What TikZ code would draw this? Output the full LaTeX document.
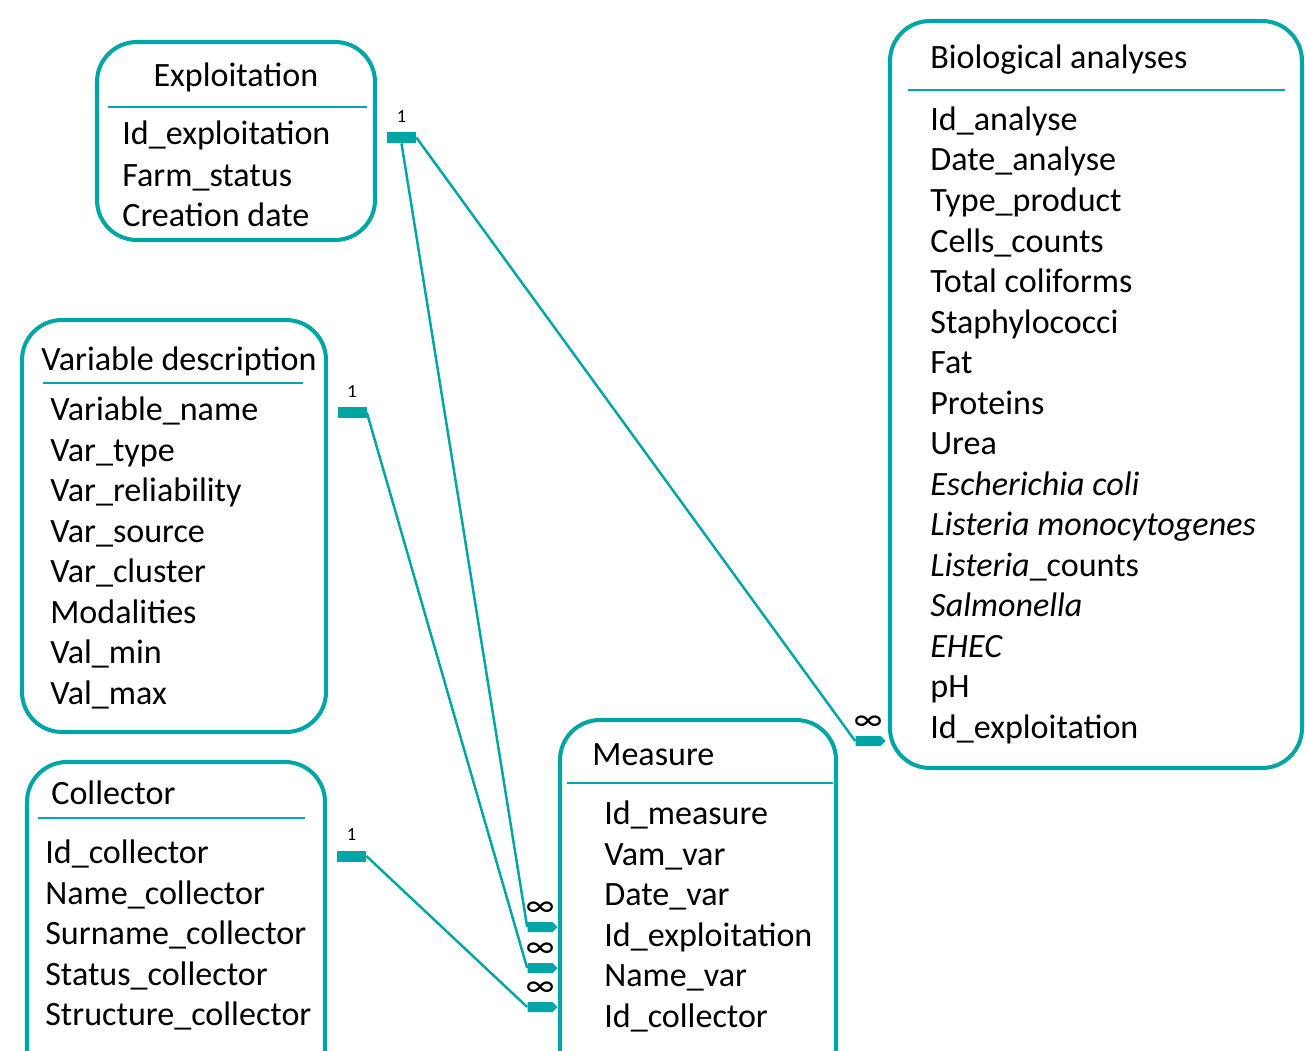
\documentclass[tikz,border=0pt]{standalone}
\usepackage{fontspec}
\setmainfont{Carlito}
\usetikzlibrary{shapes.symbols,positioning}
\definecolor{erteal}{RGB}{0,165,165}

\begin{document}
\begin{tikzpicture}[
    x=0.02cm, y=-0.02cm,
    box/.style={draw=erteal, line width=2.3pt, rounded corners=0.8cm},
    rule/.style={draw=erteal, line width=1.1pt},
    field/.style={anchor=base west, inner sep=0pt, font=\fontsize{19.4}{23}\selectfont},
    one/.style={fill=erteal, minimum width=0.58cm, minimum height=0.22cm, inner sep=0pt},
    many/.style={signal, signal to=east, fill=erteal, minimum width=0.6cm, minimum height=0.2cm, inner sep=0pt},
    card/.style={inner sep=0pt, font=\fontsize{10.5}{12}\selectfont},
    inf/.style={inner sep=0pt, font=\fontsize{19}{20}\selectfont},
    link/.style={draw=erteal, line width=1.4pt}
]
    \useasboundingbox (0,0) rectangle (1305,1051);
    \clip (0,0) rectangle (1305,1051);

    % Exploitation
    \draw[box] (97,42) rectangle (375,240);
    \draw[rule] (108,107) -- (367,107);
    \node[field, anchor=base] (exp-t) at (236,87) {Exploitation};
    \node[field] (exp-1) at (122,145) {Id\_exploitation};
    \node[field] (exp-2) at (122,186) {Farm\_status};
    \node[field] (exp-3) at (122,226) {Creation date};

    % Biological analyses
    \draw[box] (890,21) rectangle (1302,768);
    \draw[rule] (908,90) -- (1285,90);
    \node[field] (bio-t) at (930,69) {Biological analyses};
    \foreach \txt [count=\i from 0] in {Id\_analyse, Date\_analyse, Type\_product,
        Cells\_counts, Total coliforms, Staphylococci, Fat, Proteins, Urea,
        \textit{Escherichia coli}, \textit{Listeria monocytogenes},
        \textit{Listeria}\_counts, \textit{Salmonella}, \textit{EHEC}, pH, Id\_exploitation}
        \node[field] (bio-\i) at (930,130.5+40.5*\i) {\txt};

    % Variable description
    \draw[box] (22,320) rectangle (326,732);
    \draw[rule] (43,383) -- (303,383);
    \node[field] (var-t) at (41,370) {Variable description};
    \foreach \txt [count=\i from 0] in {Variable\_name, Var\_type, Var\_reliability,
        Var\_source, Var\_cluster, Modalities, Val\_min, Val\_max}
        \node[field] (var-\i) at (50,420.5+40.5*\i) {\txt};

    % Collector
    \draw[box] (27,762) rectangle (325,1090);
    \draw[rule] (38,818) -- (305,818);
    \node[field] (col-t) at (51,804) {Collector};
    \foreach \txt [count=\i from 0] in {Id\_collector, Name\_collector,
        Surname\_collector, Status\_collector, Structure\_collector}
        \node[field] (col-\i) at (45,863.5+40.5*\i) {\txt};

    % Measure
    \draw[box] (560,720) rectangle (836,1090);
    \draw[rule] (567,783) -- (833,783);
    \node[field] (mea-t) at (592,765) {Measure};
    \foreach \txt [count=\i from 0] in {Id\_measure, Vam\_var, Date\_var,
        Id\_exploitation, Name\_var, Id\_collector}
        \node[field] (mea-\i) at (604,824.5+40.5*\i) {\txt};

    % Cardinalities
    \node[one] (oneexp) at (401.5,137.5) {};
    \node[one] (onevar) at (352,412.5) {};
    \node[one] (onecol) at (351.5,856) {};
    \node[card, above=0.18cm of oneexp] (cexp) {1};
    \node[card, above=0.18cm of onevar] (cvar) {1};
    \node[card, above=0.18cm of onecol] (ccol) {1};

    \node[many] (manybio) at (868,741) {};
    \node[many] (manyexp) at (540,927) {};
    \node[many] (manyvar) at (540,968) {};
    \node[many] (manycol) at (540,1007) {};
    \node[inf, above=0.1cm of manybio] (ibio) {∞};
    \node[inf, above=0.1cm of manyexp] (iexp) {∞};
    \node[inf, above=0.1cm of manyvar] (ivar) {∞};
    \node[inf, above=0.1cm of manycol] (icol) {∞};

    % Links
    \draw[link] (oneexp.east) -- (manybio.west);
    \draw[link] (oneexp.south) -- (manyexp.west);
    \draw[link] (onevar.east) -- (manyvar.west);
    \draw[link] (onecol.east) -- (manycol.west);
\end{tikzpicture}
\end{document}
